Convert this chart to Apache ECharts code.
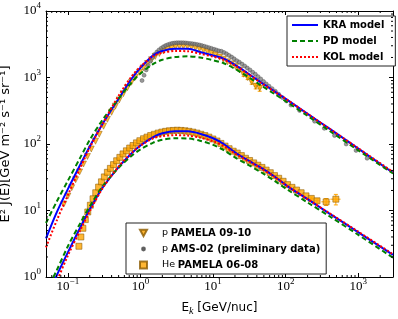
<!DOCTYPE html>
<html><head><meta charset="utf-8">
<script src="https://cdn.jsdelivr.net/npm/echarts@6/dist/echarts.min.js"></script>
<style>html,body{margin:0;padding:0;background:#fff}#c{width:398px;height:319px}</style>
</head><body><div id="c"></div>
<script>
// ---------- DATA ----------
const modelE = [0.05,0.07,0.1,0.15,0.2,0.3,0.5,0.75,1,1.5,2,3,4.5,6.6,10,14,20,30,45,70,110,200,400,1000,3000];
// proton models
const pKRA = [3.8,9.3,21,50,92,200,480,950,1400,2150,2500,2700,2700,2420,2140,1920,1550,1160,850,620,445,284,170,85,37];
const pPD  = [6.5,13.5,28,64,115,230,480,840,1150,1600,1850,2030,2080,2000,1820,1640,1350,1030,770,565,410,265,158,80,36];
const pKOL = [2.8,7,17,45,88,200,530,1030,1460,2100,2360,2500,2480,2280,2060,1850,1510,1140,840,612,445,284,170,86,38];
// helium models
const heKRA = [0.48,1.05,2.35,5.7,10.4,22,45,72,95,127,145,156,155,143,122,100,75,57,44.5,32.5,22.5,14.8,9.0,4.7,2.15];
const hePD  = [0.6,1.25,2.9,6.6,11.5,23,44,66,83,105,116,122,121,112,97,81,63,49,38,28,20,13.2,8.2,4.3,1.95];
const heKOL = [0.38,0.85,2.1,5.2,9.7,21.5,46,73,94,122,131,136,134,125,110,93,72,56,43.5,32,22.5,14.8,9.1,4.8,2.2];

// p PAMELA 09-10
const pPamE = [0.088,0.1,0.113,0.128,0.145,0.164,0.186,0.21,0.24,0.27,0.31,0.35,0.4,0.45,0.51,0.58,0.66,0.75,0.85,0.97,1.1,1.25,1.42,1.6,1.82,2.07,2.35,2.67,3.03,3.44,3.9,4.43,5.03,5.71,6.49,7.37,8.37,9.5,10.8,12.3,13.9,15.8,18,20.4,23.2,26.3,29.9,34,38.6,43.8];
const pPamV = [12.5,16.5,22,29,38,50,65,84,110,140,185,235,300,370,460,570,700,850,1010,1200,1400,1620,1850,2080,2300,2500,2670,2800,2900,2950,2960,2940,2880,2800,2700,2580,2450,2320,2180,2030,1880,1720,1600,1460,1300,1120,1000,860,740,690];
const pPamErr = [0,0,0,0,0,0,0,0,0,0,0,0,0,0,0,0,0,0,0,0,0,0,0,0,0,0,0,0,0,0,0,0,0,0,0,0,0,0,0,0,0,0,0,0,0.05,0.07,0.07,0.08,0.09,0.1];
const pPamErrE = [0,0,0,0,0,0,0,0,0,0,0,0,0,0,0,0,0,0,0,0,0,0,0,0,0,0,0,0,0,0,0,0,0,0,0,0,0,0,0,0,0,0,0,0,0.06,0.06,0.06,0.06,0.06,0.06];

// p AMS-02 (preliminary)
const pAmsE = [1.05,1.12,1.2,1.28,1.37,1.47,1.57,1.68,1.8,1.93,2.07,2.22,2.38,2.55,2.74,2.94,3.15,3.38,3.63,3.9,4.2,4.5,4.85,5.2,5.6,6.05,6.5,7.0,7.55,8.15,8.8,9.5,10.3,11.1,12.0,13.0,14.1,15.3,16.6,18.0,19.5,21.2,23.0,25.0,27.2,29.6,32.2,35.1,38.2,41.6,45.3,49.5,54,59,65,72,80,90,102,118,155,250,340,470,680,930,1320];
const pAmsV = [900,1080,1300,1520,1760,2000,2220,2420,2600,2760,2900,3020,3120,3200,3260,3300,3330,3340,3340,3330,3310,3280,3250,3220,3180,3130,3080,3020,2950,2880,2810,2740,2660,2590,2520,2480,2380,2270,2150,2030,1910,1790,1700,1590,1490,1390,1300,1200,1120,1030,950,870,800,740,680,620,560,500,445,385,320,220,172,134,100,80,61];

// He PAMELA 06-08
const hePamE = [0.142,0.151,0.161,0.174,0.188,0.204,0.222,0.242,0.265,0.29,0.318,0.35,0.385,0.425,0.47,0.52,0.575,0.64,0.71,0.79,0.88,0.98,1.1,1.23,1.38,1.55,1.75,1.97,2.22,2.5,2.83,3.2,3.62,4.1,4.65,5.27,5.98,6.78,7.7,8.74,9.92,11.3,12.8,14.6,16.6,18.9,21.5,24.5,27.9,31.8,36.2,41.3,47.1,53.7,61.3,70,80,92,106,122,141,163,190,225,270,360,490];
const hePamV = [2.9,4.0,5.4,7.3,9.5,12,15,18.5,22.5,27,32,37.5,43,49,56,63,71,79,87,95,104,112,120,127,134,140,146,151,155,158,160,161,160,158,155,151,146,140,134,127,119,111,102,93,85,78,73,67,61,56.5,52,48,44.5,40.5,37,33.5,30.5,27.5,24.5,22.3,20.3,18.5,16.6,15.2,14,13.5,14.8];
const hePamErr = [0,0,0,0,0,0,0,0,0,0,0,0,0,0,0,0,0,0,0,0,0,0,0,0,0,0,0,0,0,0,0,0,0,0,0,0,0,0,0,0,0,0,0,0,0,0,0,0,0,0,0,0,0,0,0,0,0,0,0,0,0,0,0,0.05,0.07,0.12,0.18];
const hePamErrE = [0,0,0,0,0,0,0,0,0,0,0,0,0,0,0,0,0,0,0,0,0,0,0,0,0,0,0,0,0,0,0,0,0,0,0,0,0,0,0,0,0,0,0,0,0,0,0,0,0,0,0,0,0,0,0,0,0,0,0,0,0,0,0,0.06,0.07,0.14,0.16];

// axes
const xMin = 0.05, xMax = 3000, yMin = 1, yMax = 10000;
const xDecades = [0.01,0.1,1,10,100,1000];
const yDecades = [1,10,100,1000];
const minorMult = [2,3,4,5,6,7,8,9];

// ---------- BUILD ----------
const zip = (a,b) => a.map((v,i)=>[v,b[i]]);
const zip4 = (a,b,c,d) => a.map((v,i)=>[v,b[i],c[i],d[i]]);

const xMinor = [], yMinor = [];
xDecades.forEach(d => minorMult.forEach(k => { const v = +(k*d).toPrecision(6); if (v > xMin && v < xMax) xMinor.push([v, yMin]); }));
yDecades.forEach(d => minorMult.forEach(k => { const v = k*d; if (v > yMin && v < yMax) yMinor.push([xMin, v]); }));

const chart = echarts.init(document.getElementById('c'), null, {renderer:'canvas'});

const expFmt = v => {
  const lg = Math.log10(v), r = Math.round(lg);
  if (Math.abs(lg - r) > 1e-6) return '';
  return '{b|10}{s|' + (r < 0 ? '\u2212' + (-r) : r) + '}';
};
const tickRich = {
  b: {fontFamily:'Liberation Serif', fontSize:13, color:'#000', verticalAlign:'bottom', lineHeight:13},
  s: {fontFamily:'Liberation Serif', fontSize:9, color:'#000', verticalAlign:'bottom', lineHeight:9, padding:[0,0,7,0]}
};

const orange = '#ffa500', orangeEdge = '#8b5a00';

function errRender(params, api) {
  const x = api.value(0), y = api.value(1), ey = api.value(2), ex = api.value(3);
  if (!ey && !ex) return {type:'group', children:[]};
  const top = api.coord([x, y*(1+ey)]), bot = api.coord([x, y*(1-ey)]);
  const l = api.coord([x*(1-ex), y]), r = api.coord([x*(1+ex), y]);
  const st = {stroke: orange, lineWidth: 1};
  const c = 2;
  return {type:'group', children:[
    {type:'line', shape:{x1:top[0],y1:top[1],x2:bot[0],y2:bot[1]}, style:st},
    {type:'line', shape:{x1:top[0]-c,y1:top[1],x2:top[0]+c,y2:top[1]}, style:st},
    {type:'line', shape:{x1:bot[0]-c,y1:bot[1],x2:bot[0]+c,y2:bot[1]}, style:st},
    {type:'line', shape:{x1:l[0],y1:l[1],x2:r[0],y2:r[1]}, style:st}
  ]};
}
function xMinorRender(params, api) {
  const v = api.value(0);
  const b = api.coord([v, yMin]), t = api.coord([v, yMax]);
  const st = {stroke:'#000', lineWidth:1};
  return {type:'group', children:[
    {type:'line', shape:{x1:b[0],y1:b[1],x2:b[0],y2:b[1]-2}, style:st},
    {type:'line', shape:{x1:t[0],y1:t[1],x2:t[0],y2:t[1]+2}, style:st}
  ]};
}
function yMinorRender(params, api) {
  const v = api.value(1);
  const l = api.coord([xMin, v]), r = api.coord([xMax, v]);
  const st = {stroke:'#000', lineWidth:1};
  return {type:'group', children:[
    {type:'line', shape:{x1:l[0],y1:l[1],x2:l[0]+2,y2:l[1]}, style:st},
    {type:'line', shape:{x1:r[0],y1:r[1],x2:r[0]-2,y2:r[1]}, style:st}
  ]};
}

const lineSeries = (name, data, color, type) => ({
  name, type:'line', data, symbol:'none', showSymbol:false, smooth:0.3, clip:true,
  lineStyle:{color, width:2, type}, itemStyle:{color}, z:5, silent:true
});

const axisCommonX = {type:'log', logBase:10, min:xMin, max:xMax, splitLine:{show:false}, minorTick:{show:false},
  axisLine:{show:true, onZero:false, lineStyle:{color:'#000', width:1}},
  axisTick:{show:true, inside:true, length:4, lineStyle:{color:'#000', width:1}}};
const axisCommonY = {type:'log', logBase:10, min:yMin, max:yMax, splitLine:{show:false}, minorTick:{show:false},
  axisLine:{show:true, onZero:false, lineStyle:{color:'#000', width:1}},
  axisTick:{show:true, inside:true, length:4, lineStyle:{color:'#000', width:1}}};

const option = {
  backgroundColor:'#fff',
  animation:false,
  grid:{left:46, right:5, top:11, bottom:42, containLabel:false, outerBoundsMode:'none'},
  xAxis:[
    Object.assign({}, axisCommonX, {position:'bottom',
      axisLabel:{formatter:expFmt, rich:tickRich, margin:3, showMinLabel:true, showMaxLabel:true, hideOverlap:false},
      name:'E{k|k} [GeV/nuc]', nameLocation:'middle', nameGap:22,
      nameTextStyle:{fontFamily:'DejaVu Sans', fontSize:12, color:'#000',
        rich:{k:{fontFamily:'Liberation Serif', fontStyle:'italic', fontSize:10, color:'#000', verticalAlign:'top', padding:[7,0,0,0]}}}
    }),
    Object.assign({}, axisCommonX, {position:'top', axisLabel:{show:false}})
  ],
  yAxis:[
    Object.assign({}, axisCommonY, {position:'left',
      axisLabel:{formatter:expFmt, rich:tickRich, margin:5, hideOverlap:false},
      name:'E\u00b2 J(E)[GeV m\u207b\u00b2 s\u207b\u00b9 sr\u207b\u00b9]', nameLocation:'middle', nameGap:26, nameRotate:90,
      nameTextStyle:{fontFamily:'DejaVu Sans', fontSize:13, color:'#000'}
    }),
    Object.assign({}, axisCommonY, {position:'right', axisLabel:{show:false}})
  ],
  legend:[
    {data:['KRA model','PD model','KOL model'], orient:'vertical', left:287, top:16,
     itemWidth:26, itemHeight:12, itemGap:4, padding:[3,11,3,4],
     borderColor:'#222', borderWidth:1, backgroundColor:'#fff', borderRadius:0,
     itemStyle:{color:'rgba(0,0,0,0)', borderColor:'rgba(0,0,0,0)', borderWidth:0},
     textStyle:{fontFamily:'DejaVu Sans', fontWeight:'bold', fontSize:10, color:'#000', lineHeight:12},
     selectedMode:false},
    {data:[
       {name:'p PAMELA 09-10', icon:'path://M0,0L10,0L5,9Z'},
       {name:'p AMS-02 (preliminary data)', icon:'path://M0,0L0,0M10,10L10,10M3,5A2,2,0,1,0,7,5A2,2,0,1,0,3,5Z'},
       {name:'He PAMELA 06-08', icon:'rect'}],
     orient:'vertical', left:126, top:223,
     itemWidth:7, itemHeight:7, itemGap:4, padding:[4,6,3,13],
     borderColor:'#222', borderWidth:1, backgroundColor:'#fff', borderRadius:0,
     formatter: n => { const i = n.indexOf(' '); return '{n|' + n.slice(0,i) + '} {b|' + n.slice(i+1) + '}'; },
     textStyle:{fontSize:10, color:'#000', lineHeight:12,
       rich:{n:{fontFamily:'DejaVu Sans', fontSize:9.5, fontWeight:'normal', color:'#000', lineHeight:12, padding:[0,0,0,10]},
             b:{fontFamily:'DejaVu Sans', fontSize:10, fontWeight:'bold', color:'#000', lineHeight:12}}},
     selectedMode:false}
  ],
  series:[
    {name:'pErr', type:'custom', renderItem:errRender, data:zip4(pPamE,pPamV,pPamErr,pPamErrE), encode:{x:0,y:1}, z:2, silent:true},
    {name:'heErr', type:'custom', renderItem:errRender, data:zip4(hePamE,hePamV,hePamErr,hePamErrE), encode:{x:0,y:1}, z:2, silent:true},
    {name:'p PAMELA 09-10', type:'scatter', data:zip(pPamE,pPamV), symbol:'triangle', symbolRotate:180, symbolSize:6,
     itemStyle:{color:orange, borderColor:orangeEdge, borderWidth:0.6}, z:3, silent:true},
    {name:'p AMS-02 (preliminary data)', type:'scatter', data:zip(pAmsE,pAmsV), symbol:'circle', symbolSize:4,
     itemStyle:{color:'#808080', borderColor:'#444', borderWidth:0.5}, z:3, silent:true},
    {name:'He PAMELA 06-08', type:'scatter', data:zip(hePamE,hePamV), symbol:'rect', symbolSize:6,
     itemStyle:{color:orange, borderColor:orangeEdge, borderWidth:0.7}, z:3, silent:true},
    lineSeries('KRA model', zip(modelE,pKRA), '#0000ff', 'solid'),
    lineSeries('PD model', zip(modelE,pPD), '#008000', [5,3]),
    lineSeries('KOL model', zip(modelE,pKOL), '#ff0000', [2,2]),
    lineSeries('KRA model', zip(modelE,heKRA), '#0000ff', 'solid'),
    lineSeries('PD model', zip(modelE,hePD), '#008000', [5,3]),
    lineSeries('KOL model', zip(modelE,heKOL), '#ff0000', [2,2]),
    {name:'xminor', type:'custom', renderItem:xMinorRender, data:xMinor, encode:{x:0,y:1}, z:10, silent:true},
    {name:'yminor', type:'custom', renderItem:yMinorRender, data:yMinor, encode:{x:0,y:1}, z:10, silent:true}
  ]
};
chart.setOption(option);
</script></body></html>
